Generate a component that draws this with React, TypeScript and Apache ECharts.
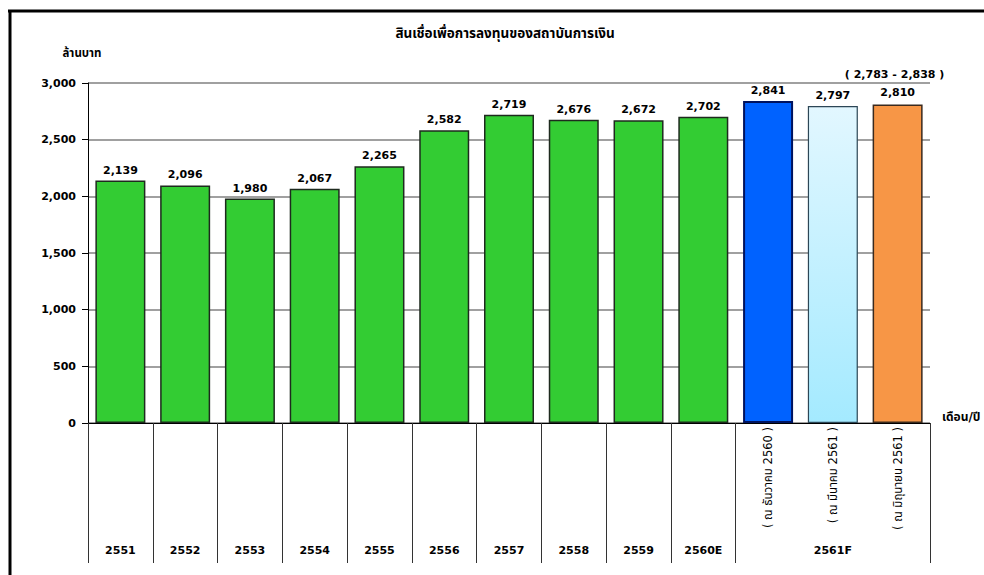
import React, { useEffect, useRef } from "react";
import * as echarts from "echarts";

const title = "สินเชื่อเพื่อการลงทุนของสถาบันการเงิน";
const yAxisName = "ล้านบาท";
const xAxisName = "เดือน/ปี";
const categories = [
  "2551", "2552", "2553", "2554", "2555", "2556", "2557", "2558", "2559", "2560E",
  "( ณ ธันวาคม 2560 )", "( ณ มีนาคม 2561 )", "( ณ มิถุนายน 2561 )",
];
const yearLabels = [
  "2551", "2552", "2553", "2554", "2555", "2556", "2557", "2558", "2559", "2560E",
  "", "2561F", "",
];
const subLabels = ["", "", "", "", "", "", "", "", "", "", "( ณ ธันวาคม 2560 )", "( ณ มีนาคม 2561 )", "( ณ มิถุนายน 2561 )"];
const values = [2139, 2096, 1980, 2067, 2265, 2582, 2719, 2676, 2672, 2702, 2841, 2797, 2810];
const forecastRange = [2783, 2838];
const yTicks = { min: 0, max: 3000, interval: 500 };

const FONT = "Verdana, 'DejaVu Sans', 'Noto Sans', 'Noto Sans Thai', sans-serif";
const fmt = (v: number) => v.toLocaleString("en-US");

export default function App() {
  const ref = useRef<HTMLDivElement>(null);
  useEffect(() => {
    if (!ref.current) return;
    const chart = echarts.init(ref.current, null, { renderer: "svg" });
    const green = { color: "#33CC33", borderColor: "#1e2a1e", borderWidth: 1.5 };
    const styles = [
      ...values.slice(0, 10).map(() => green),
      { color: "#0062FF", borderColor: "#00135e", borderWidth: 2 },
      {
        color: new echarts.graphic.LinearGradient(0, 0, 0, 1, [
          { offset: 0, color: "#E2F7FF" },
          { offset: 1, color: "#A4EAFF" },
        ]),
        borderColor: "#2c4656",
        borderWidth: 1.2,
      },
      { color: "#F79646", borderColor: "#3a2a1e", borderWidth: 1.5 },
    ];
    const data = values.map((v, i) => {
      const item: any = { value: v, itemStyle: styles[i] };
      if (i === values.length - 1) {
        item.label = {
          formatter: () => `{r|( ${fmt(forecastRange[0])} - ${fmt(forecastRange[1])} )}\n{v|${fmt(v)}}`,
          rich: {
            r: { fontFamily: FONT, fontSize: 11, color: "#000", fontWeight: "bold", lineHeight: 22, padding: [0, 0, 0, -6] },
            v: { fontFamily: FONT, fontSize: 11, color: "#000", fontWeight: "bold", lineHeight: 14 },
          },
        };
      }
      return item;
    });
    chart.setOption({
      animation: false,
      backgroundColor: "#fff",
      title: {
        text: title,
        left: 500,
        textAlign: "center",
        top: 21,
        textStyle: { fontFamily: FONT, fontSize: 13.5, fontWeight: "bold", color: "#000" },
      },
      grid: { left: 88, right: 54, top: 83, bottom: 152 },
      xAxis: [
        {
          type: "category",
          data: categories,
          position: "bottom",
          name: xAxisName,
          nameLocation: "end",
          nameGap: 12,
          nameTextStyle: { fontFamily: FONT, fontSize: 12, fontWeight: "bold", color: "#000", verticalAlign: "bottom" },
          axisLine: { lineStyle: { color: "#000", width: 1 } },
          axisTick: {
            show: true,
            length: 140,
            interval: (i: number) => i <= 10,
            lineStyle: { color: "#333", width: 1 },
          },
          axisLabel: {
            interval: 0,
            margin: 122,
            formatter: (_v: string, i: number) => yearLabels[i],
            fontFamily: FONT,
            fontSize: 11,
            fontWeight: "bold",
            color: "#000",
          },
        },
        {
          type: "category",
          data: categories,
          position: "bottom",
          axisLine: { show: false },
          axisTick: { show: false },
          axisLabel: {
            interval: 0,
            rotate: 90,
            margin: 4,
            formatter: (_v: string, i: number) => subLabels[i],
            fontFamily: FONT,
            fontSize: 11.5,
            fontWeight: "normal",
            color: "#000",
          },
        },
      ],
      yAxis: {
        type: "value",
        min: yTicks.min,
        max: yTicks.max,
        interval: yTicks.interval,
        name: yAxisName,
        nameLocation: "end",
        nameGap: 24,
        nameTextStyle: { fontFamily: FONT, fontSize: 11.5, fontWeight: "bold", color: "#000", align: "center", padding: [0, 12, 0, 0] },
        axisLine: { show: true, lineStyle: { color: "#000", width: 1 } },
        axisTick: { show: true, length: 6, lineStyle: { color: "#000" } },
        axisLabel: {
          margin: 12,
          formatter: (v: number) => fmt(v),
          fontFamily: FONT,
          fontSize: 11,
          fontWeight: "bold",
          color: "#000",
        },
        splitLine: { lineStyle: { color: "#808080", width: 1.5 } },
      },
      series: [
        {
          type: "bar",
          xAxisIndex: 0,
          data,
          barWidth: 50,
          label: {
            show: true,
            position: "top",
            distance: 5,
            formatter: (p: any) => fmt(p.value),
            fontFamily: FONT,
            fontSize: 11,
            fontWeight: "bold",
            color: "#000",
          },
        },
      ],
      graphic: [
        { type: "line", shape: { x1: 8, y1: 11, x2: 984, y2: 11 }, style: { stroke: "#000", lineWidth: 3 }, z: 10 },
        { type: "line", shape: { x1: 10, y1: 10, x2: 10, y2: 575 }, style: { stroke: "#000", lineWidth: 3 }, z: 10 },
      ],
    });
    return () => chart.dispose();
  }, []);
  return <div ref={ref} style={{ position: "fixed", left: 0, top: 0, width: 984, height: 575 }} />;
}
